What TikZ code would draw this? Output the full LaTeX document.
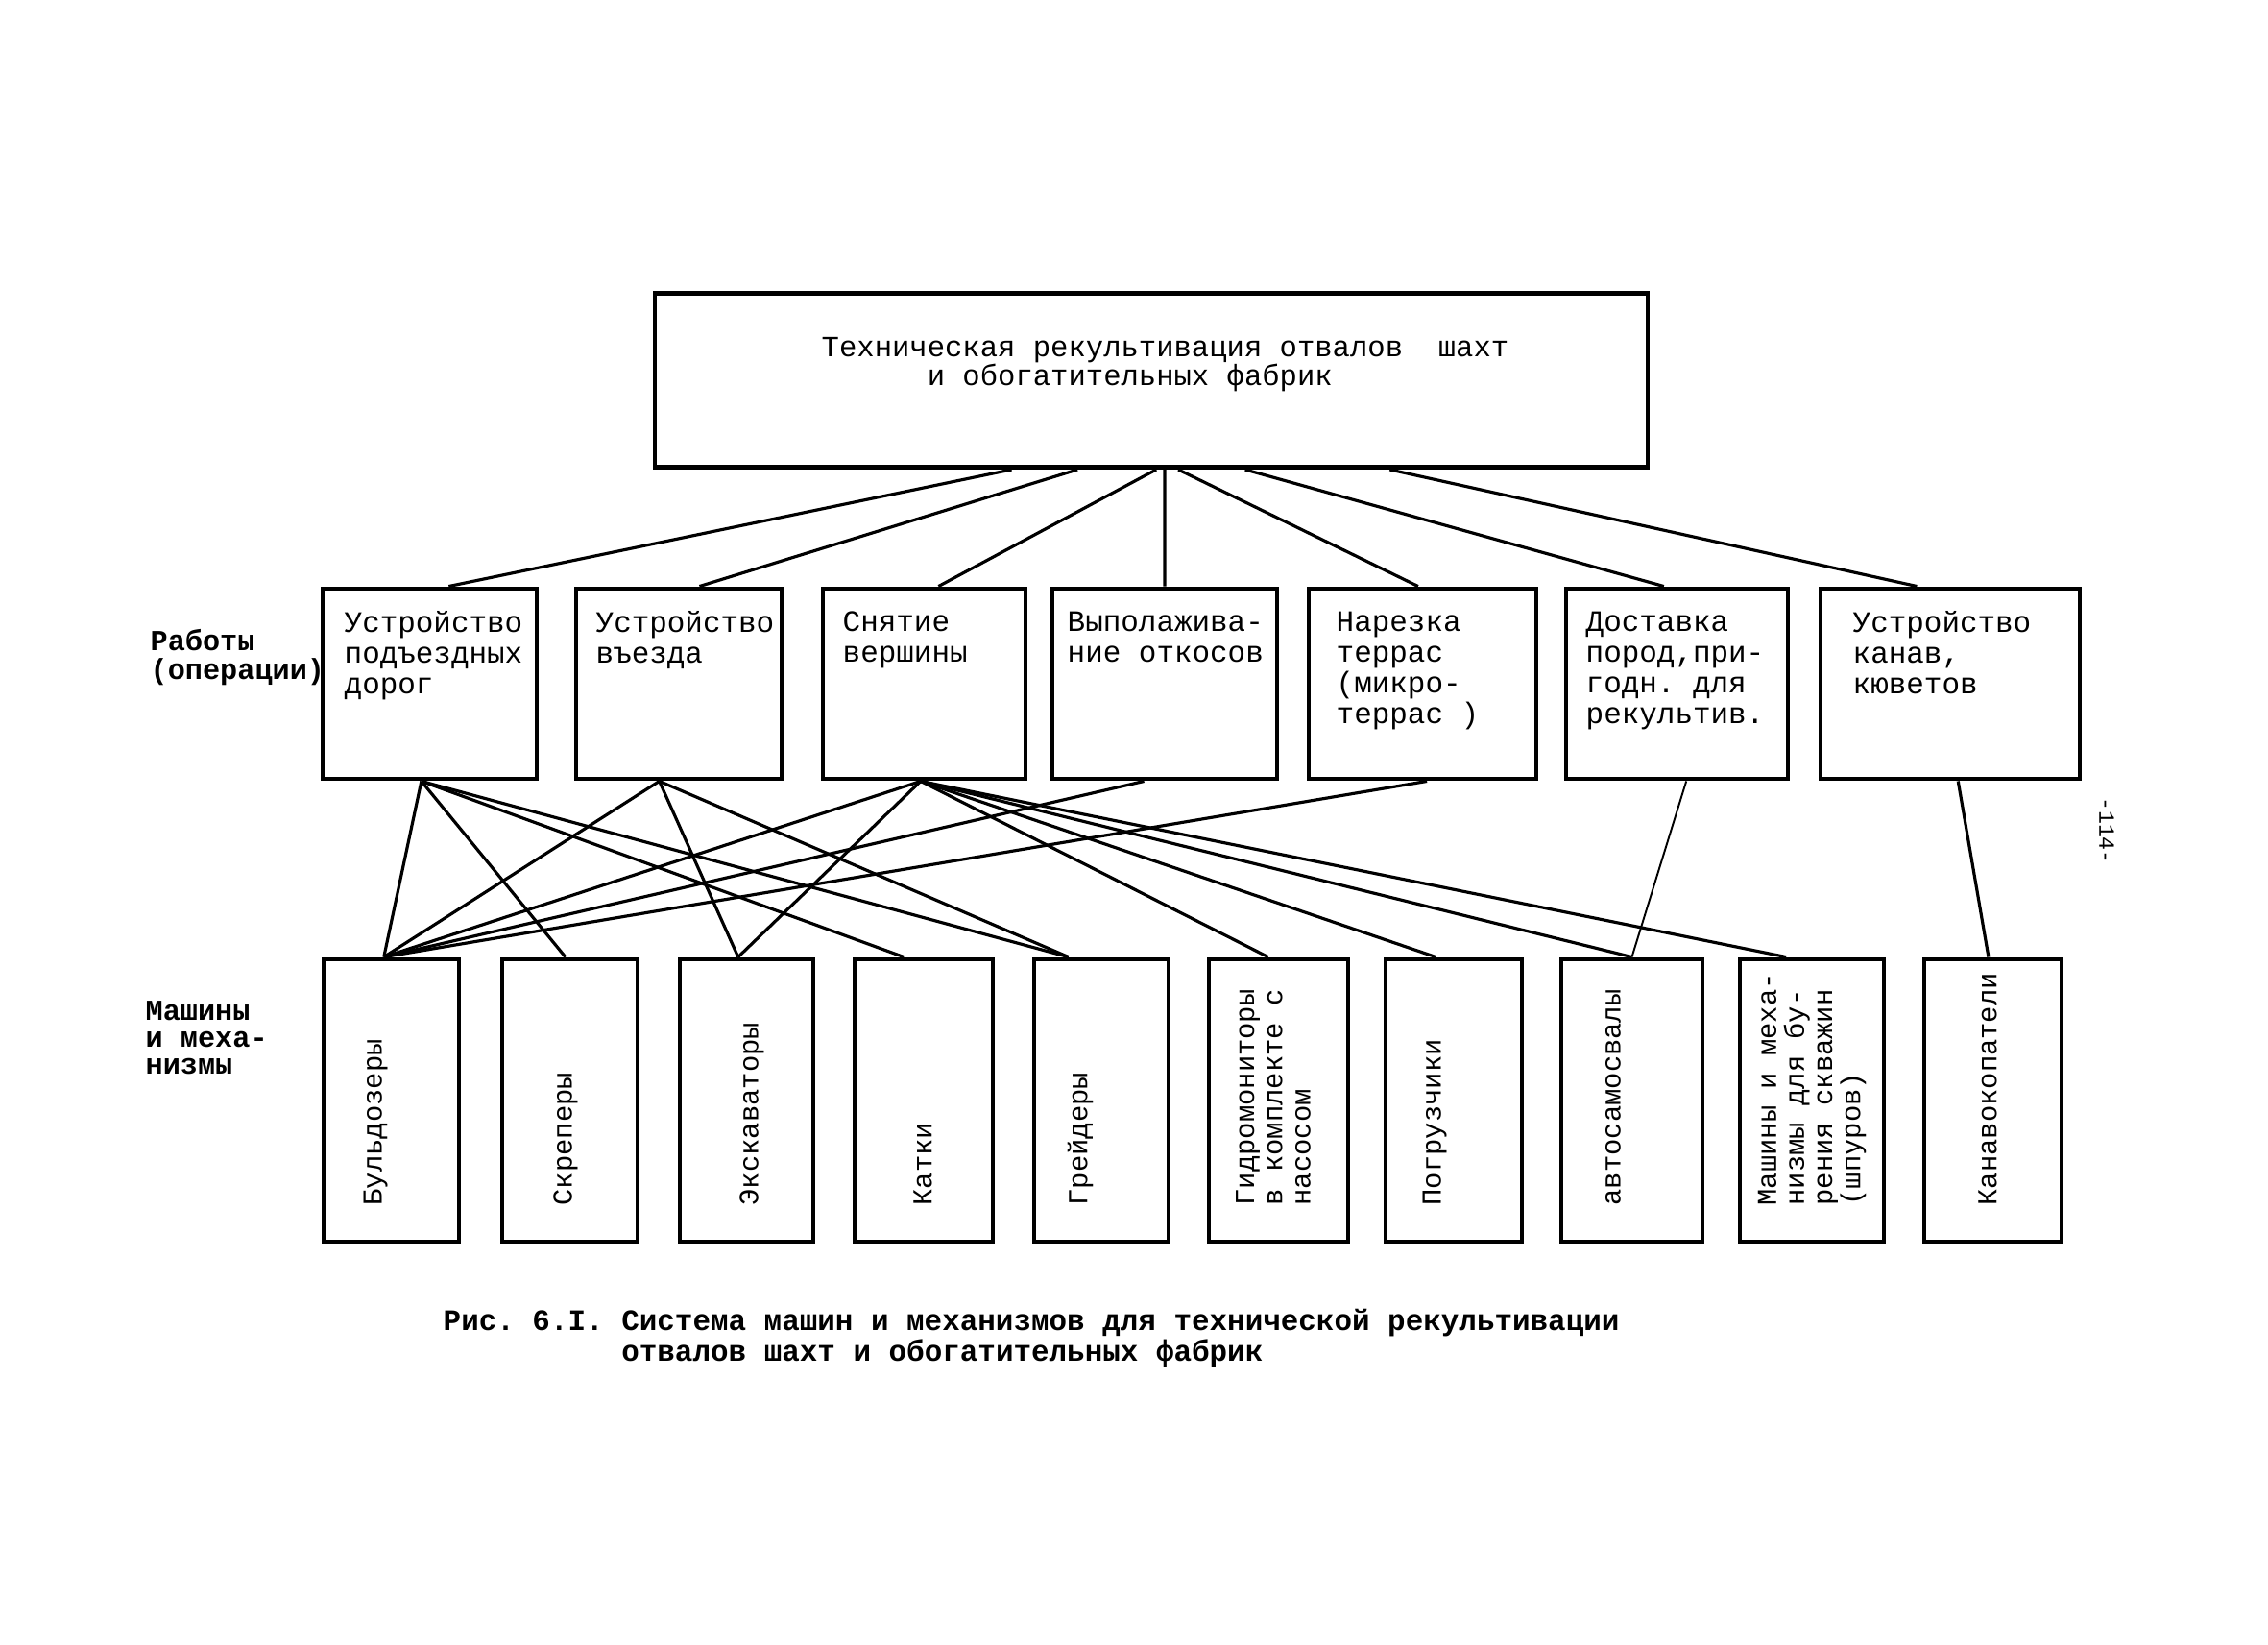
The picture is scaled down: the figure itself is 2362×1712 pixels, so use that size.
\documentclass[tikz,border=0pt]{standalone}
\usepackage{fontspec}
\setmainfont{Liberation Mono}
\usetikzlibrary{calc}
\frenchspacing

\begin{document}
\begin{tikzpicture}[x=0.1mm, y=-0.1mm,
  box/.style={draw, line width=1.4pt, inner sep=0pt},
  work/.style={box, minimum height=19.8mm},
  mach/.style={box, minimum height=29.4mm},
  txt/.style={inner sep=0pt, align=left, anchor=north west, font=\fontsize{8.8}{9.1}\selectfont},
  vtxt/.style={inner sep=0pt, align=left, anchor=west, rotate=90, font=\fontsize{8.2}{8.3}\selectfont},
  link/.style={line width=0.9pt}]
  \useasboundingbox (0,0) rectangle (2362,1712);

  % main task
  \node[box, minimum width=103.4mm, minimum height=18.1mm] (tech) at (1199,396) {};
  \node[txt, font=\fontsize{8.7}{8.5}\selectfont] (tech-t) at (855,351) {Техническая рекультивация отвалов~ шахт\\~~~~~~и обогатительных фабрик};

  % works (operations)
  \node[txt, font=\bfseries\fontsize{8.6}{8.5}\selectfont] (works) at (156,655) {Работы\\(операции)};
  \node[work, minimum width=22.3mm] (r1) at (447.5,712) {};
  \node[work, minimum width=21.4mm] (r2) at (707,712) {};
  \node[work, minimum width=21.1mm] (r3) at (962.5,712) {};
  \node[work, minimum width=23.4mm] (r4) at (1213,712) {};
  \node[work, minimum width=23.7mm] (r5) at (1481.5,712) {};
  \node[work, minimum width=23.1mm] (r6) at (1746.5,712) {};
  \node[work, minimum width=27mm] (r7) at (2031,712) {};
  \node[txt] (r1-t) at (358,636) {Устройство\\подъездных\\дорог};
  \node[txt] (r2-t) at (620,636) {Устройство\\въезда};
  \node[txt] (r3-t) at (877,636) {Снятие\\вершины};
  \node[txt] (r4-t) at (1111,636) {Выполажива-\\ние откосов};
  \node[txt] (r5-t) at (1391,636) {Нарезка\\террас\\(микро-\\террас )};
  \node[txt] (r6-t) at (1651,636) {Доставка\\пород,при-\\годн. для\\рекультив.};
  \node[txt] (r7-t) at (1929,636) {Устройство\\канав,\\кюветов};

  % machines
  \node[txt, font=\bfseries\fontsize{8.6}{8}\selectfont] (machines) at (151,1042) {Машины\\и меха-\\низмы};
  \node[mach, minimum width=14.1mm] (m1) at (407.5,1146) {};
  \node[mach, minimum width=14.1mm] (m2) at (593.5,1146) {};
  \node[mach, minimum width=13.9mm] (m3) at (777.5,1146) {};
  \node[mach, minimum width=14.4mm] (m4) at (962,1146) {};
  \node[mach, minimum width=14mm] (m5) at (1147,1146) {};
  \node[mach, minimum width=14.5mm] (m6) at (1331.5,1146) {};
  \node[mach, minimum width=14.2mm] (m7) at (1514,1146) {};
  \node[mach, minimum width=14.7mm] (m8) at (1699.5,1146) {};
  \node[mach, minimum width=15mm] (m9) at (1887,1146) {};
  \node[mach, minimum width=14.3mm] (m10) at (2075.5,1146) {};
  \node[vtxt] (m1-t) at (391,1256) {Бульдозеры};
  \node[vtxt] (m2-t) at (589,1256) {Скреперы};
  \node[vtxt] (m3-t) at (783,1256) {Экскаваторы};
  \node[vtxt] (m4-t) at (961,1256) {Катки};
  \node[vtxt] (m5-t) at (1125,1256) {Грейдеры};
  \node[vtxt] (m6-t) at (1326,1256) {Гидромониторы\\в комплекте с\\насосом};
  \node[vtxt] (m7-t) at (1494,1256) {Погрузчики};
  \node[vtxt] (m8-t) at (1680,1256) {автосамосвалы};
  \node[vtxt] (m9-t) at (1887,1256) {Машины и меха-\\низмы для бу-\\рения скважин\\(шпуров)};
  \node[vtxt] (m10-t) at (2070,1256) {Канавокопатели};

  % links
  \foreach \r/\a/\b in {r1/.360/.587, r2/.426/.598, r3/.505/.569, r4/.5135/.5,
                        r5/.527/.481, r6/.594/.442, r7/.739/.374}
    \draw[link] ($(tech.south west)!\a!(tech.south east)$) -- ($(\r.north west)!\b!(\r.north east)$);
  \foreach \r/\a/\m/\b in {r1/.462/m1/.447, r1/.462/m2/.468, r1/.462/m4/.361, r1/.462/m5/.264,
                           r2/.407/m1/.447, r2/.407/m3/.439, r2/.407/m5/.264,
                           r3/.483/m1/.447, r3/.483/m3/.439, r3/.483/m6/.428, r3/.483/m7/.373,
                           r3/.483/m8/.5, r3/.483/m9/.327,
                           r4/.41/m1/.447, r5/.519/m1/.447, r7/.53/m10/.469}
    \draw[link] ($(\r.south west)!\a!(\r.south east)$) -- ($(\m.north west)!\b!(\m.north east)$);
  \draw[link, line width=0.55pt] ($(r6.south west)!.541!(r6.south east)$) -- ($(m8.north west)!.5!(m8.north east)$);

  % caption and page mark
  \node[txt, font=\bfseries\fontsize{8.8}{7.8}\selectfont] (caption) at (461,1362) {Рис.~6.I.~Система машин и механизмов для технической рекультивации\\\hphantom{Рис.~6.I.~}отвалов шахт и обогатительных фабрик};
  \node[inner sep=0pt, rotate=-90, font=\fontsize{6.6}{7}\selectfont] (page) at (2194,865) {-114-};
\end{tikzpicture}
\end{document}
